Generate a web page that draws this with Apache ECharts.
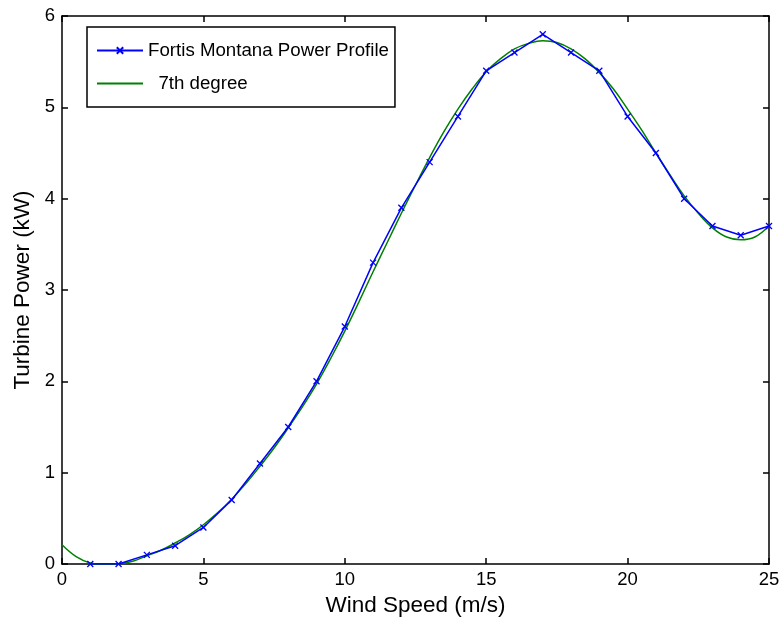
<!DOCTYPE html>
<html>
<head>
<meta charset="utf-8">
<script src="https://cdn.jsdelivr.net/npm/echarts@6/dist/echarts.min.js"></script>
<style>
  html, body { margin: 0; padding: 0; background: #fff; }
  #chart { width: 782px; height: 619px; }
</style>
</head>
<body>
<div id="chart"></div>
<script>
// Measured power profile: wind speed (m/s) vs turbine power (kW)
const windSpeed = [1, 2, 3, 4, 5, 6, 7, 8, 9, 10, 11, 12, 13, 14, 15, 16, 17, 18, 19, 20, 21, 22, 23, 24, 25];
const profilePower = [0, 0, 0.1, 0.2, 0.4, 0.7, 1.1, 1.5, 2.0, 2.6, 3.3, 3.9, 4.4, 4.9, 5.4, 5.6, 5.8, 5.6, 5.4, 4.9, 4.5, 4.0, 3.7, 3.6, 3.7];

// 7th-degree polynomial fit, sampled along the wind speed range
const fitSpeed = [0, 0.5, 1, 1.5, 2, 2.5, 3, 3.5, 4, 4.5, 5, 5.5, 6, 6.5, 7, 7.5, 8, 8.5, 9, 9.5, 10, 10.5, 11, 11.5, 12, 12.5,
  13, 13.5, 14, 14.5, 15, 15.5, 16, 16.5, 17, 17.5, 18, 18.5, 19, 19.5, 20, 20.5, 21, 21.5, 22, 22.5, 23, 23.5, 24, 24.5, 25];
const fitPower = [0.21, 0.08, 0.01, -0.01, 0.0, 0.03, 0.09, 0.15, 0.23, 0.32, 0.43, 0.56, 0.71, 0.88, 1.07, 1.27, 1.49, 1.72, 1.97, 2.25, 2.55, 2.87,
  3.2, 3.52, 3.84, 4.15, 4.45, 4.73, 4.98, 5.2, 5.39, 5.53, 5.64, 5.7, 5.73, 5.71, 5.64, 5.53, 5.38, 5.2, 4.98, 4.75, 4.5, 4.26,
  4.03, 3.84, 3.68, 3.58, 3.55, 3.58, 3.7];

const profileName = 'Fortis Montana Power Profile';
const fitName = '  7th degree';

const FONT = 'Liberation Sans, Arial, sans-serif';
const crossMark = 'path://M0,0L10,10M10,0L0,10';

const zip = (xs, ys) => xs.map((x, i) => [x, ys[i]]);

// Boxed axes with inward ticks on all four sides
const boxAxisX = (show) => ({
  type: 'value', min: 0, max: 25, interval: 5,
  axisLine: { show: true, onZero: false, lineStyle: { color: '#000', width: 1.5 } },
  axisTick: { show: true, inside: true, length: 6, lineStyle: { color: '#000', width: 1.5 } },
  axisLabel: { show: show, color: '#000', fontSize: 18.5, fontFamily: FONT, margin: 6 },
  splitLine: { show: false }
});
const boxAxisY = (show) => ({
  type: 'value', min: 0, max: 6, interval: 1,
  axisLine: { show: true, onZero: false, lineStyle: { color: '#000', width: 1.5 } },
  axisTick: { show: true, inside: true, length: 6, lineStyle: { color: '#000', width: 1.5 } },
  axisLabel: { show: show, color: '#000', fontSize: 18.5, fontFamily: FONT, margin: 7 },
  splitLine: { show: false }
});

const chart = echarts.init(document.getElementById('chart'), null, { renderer: 'canvas' });
chart.setOption({
  backgroundColor: '#fff',
  animation: false,
  grid: { left: 62, right: 13, top: 16, bottom: 55, containLabel: false, outerBoundsMode: 'none' },
  xAxis: [
    Object.assign(boxAxisX(true), {
      position: 'bottom',
      name: 'Wind Speed (m/s)', nameLocation: 'middle', nameGap: 29,
      nameTextStyle: { color: '#000', fontSize: 22.5, fontFamily: FONT }
    }),
    Object.assign(boxAxisX(false), { position: 'top' })
  ],
  yAxis: [
    Object.assign(boxAxisY(true), {
      position: 'left',
      name: 'Turbine Power (kW)', nameLocation: 'middle', nameGap: 26,
      nameTextStyle: { color: '#000', fontSize: 22.5, fontFamily: FONT }
    }),
    Object.assign(boxAxisY(false), { position: 'right' })
  ],
  legend: {
    orient: 'vertical', left: 87, top: 27,
    backgroundColor: '#fff',
    borderColor: '#000', borderWidth: 1.5, borderRadius: 0,
    padding: [14, 6, 14, 9],
    itemWidth: 46, itemHeight: 8, itemGap: 14,
    textStyle: { color: '#000', fontSize: 18.7, fontFamily: FONT },
    data: [
      { name: profileName },
      { name: fitName, itemStyle: { opacity: 0 } }
    ]
  },
  series: [
    {
      name: profileName,
      type: 'line',
      data: zip(windSpeed, profilePower),
      symbol: crossMark, symbolSize: 6, showSymbol: true,
      lineStyle: { color: '#0000ff', width: 1.5 },
      itemStyle: { color: '#0000ff', borderColor: '#0000ff', borderWidth: 1.3 },
      z: 3
    },
    {
      name: fitName,
      type: 'line',
      data: zip(fitSpeed, fitPower),
      smooth: 0.4,
      symbol: 'none',
      lineStyle: { color: '#008000', width: 1.5 },
      itemStyle: { color: '#008000' },
      z: 2
    }
  ]
});
</script>
</body>
</html>
